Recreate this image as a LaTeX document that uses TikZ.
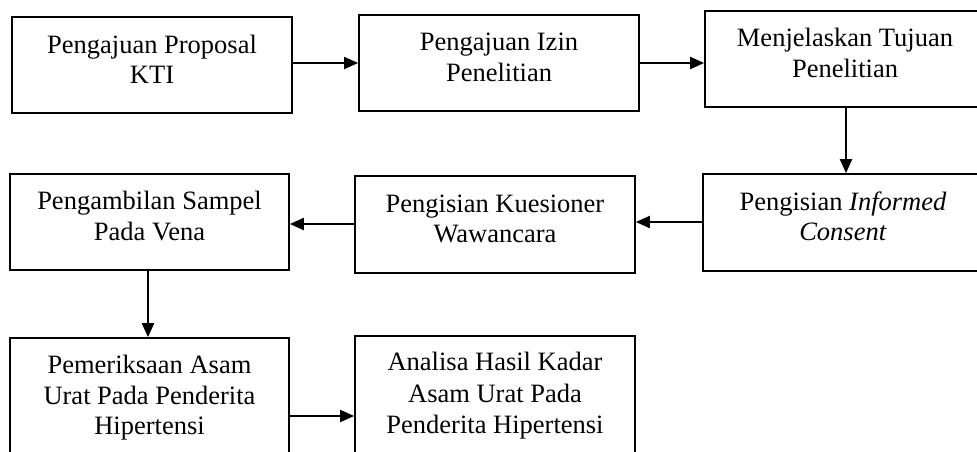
\documentclass[tikz,border=0pt]{standalone}
\usepackage{fontspec}
\setmainfont{Liberation Serif}
\usetikzlibrary{arrows.meta}
\newcommand{\bst}{\rule[-12pt]{0pt}{30pt}}
\tikzset{
  box/.style={draw=black, line width=1.7pt, rectangle, inner sep=0pt, align=center,
    font=\fontsize{26.5pt}{30pt}\selectfont},
  arr/.style={draw=black, line width=2pt, -{Triangle[length=14pt,width=12pt]}}
}
\begin{document}
\begin{tikzpicture}[x=1pt,y=-1pt]
\useasboundingbox (0,0) rectangle (977,452);
\clip (0,0) rectangle (977,452);
% boxes: centre, width, height
\node[box, minimum width=280pt, minimum height=96pt] (b1) at (152,65) {\bst Pengajuan Proposal\\\bst KTI};
\node[box, minimum width=280pt, minimum height=96pt] (b2) at (499,63) {\bst Pengajuan Izin\\\bst Penelitian};
\node[box, minimum width=280pt, minimum height=96pt] (b3) at (845,59) {\bst Menjelaskan Tujuan\\\bst Penelitian};
\node[box, minimum width=280pt, minimum height=97pt] (b4) at (843,222.5) {\bst Pengisian \textit{Informed}\\\bst \textit{Consent}};
\node[box, minimum width=280pt, minimum height=97pt] (b5) at (495,224.5) {\bst Pengisian Kuesioner\\\bst Wawancara};
\node[box, minimum width=279pt, minimum height=96pt] (b6) at (149.5,222) {\bst Pengambilan Sampel\\\bst Pada Vena};
\node[box, minimum width=279pt, minimum height=126pt] (b7) at (149.5,401) {\bst Pemeriksaan Asam\\\bst Urat Pada Penderita\\\bst Hipertensi};
\node[box, minimum width=280pt, minimum height=126pt] (b8) at (495,399) {\bst Analisa Hasil Kadar\\\bst Asam Urat Pada\\\bst Penderita Hipertensi};
% connectors
\draw[arr] ([yshift=2pt]b1.east) -- (b2.west);
\draw[arr] (b2.east) -- ([yshift=-4pt]b3.west);
\draw[arr] ([xshift=1pt]b3.south) -- ([xshift=3pt]b4.north);
\draw[arr] ([yshift=0.5pt]b4.west) -- ([yshift=2.5pt]b5.east);
\draw[arr] ([yshift=0.5pt]b5.west) -- ([yshift=-2pt]b6.east);
\draw[arr] ([xshift=-1.5pt]b6.south) -- ([xshift=-1.5pt]b7.north);
\draw[arr] ([yshift=-15pt]b7.east) -- ([yshift=-17pt]b8.west);
\end{tikzpicture}
\end{document}
